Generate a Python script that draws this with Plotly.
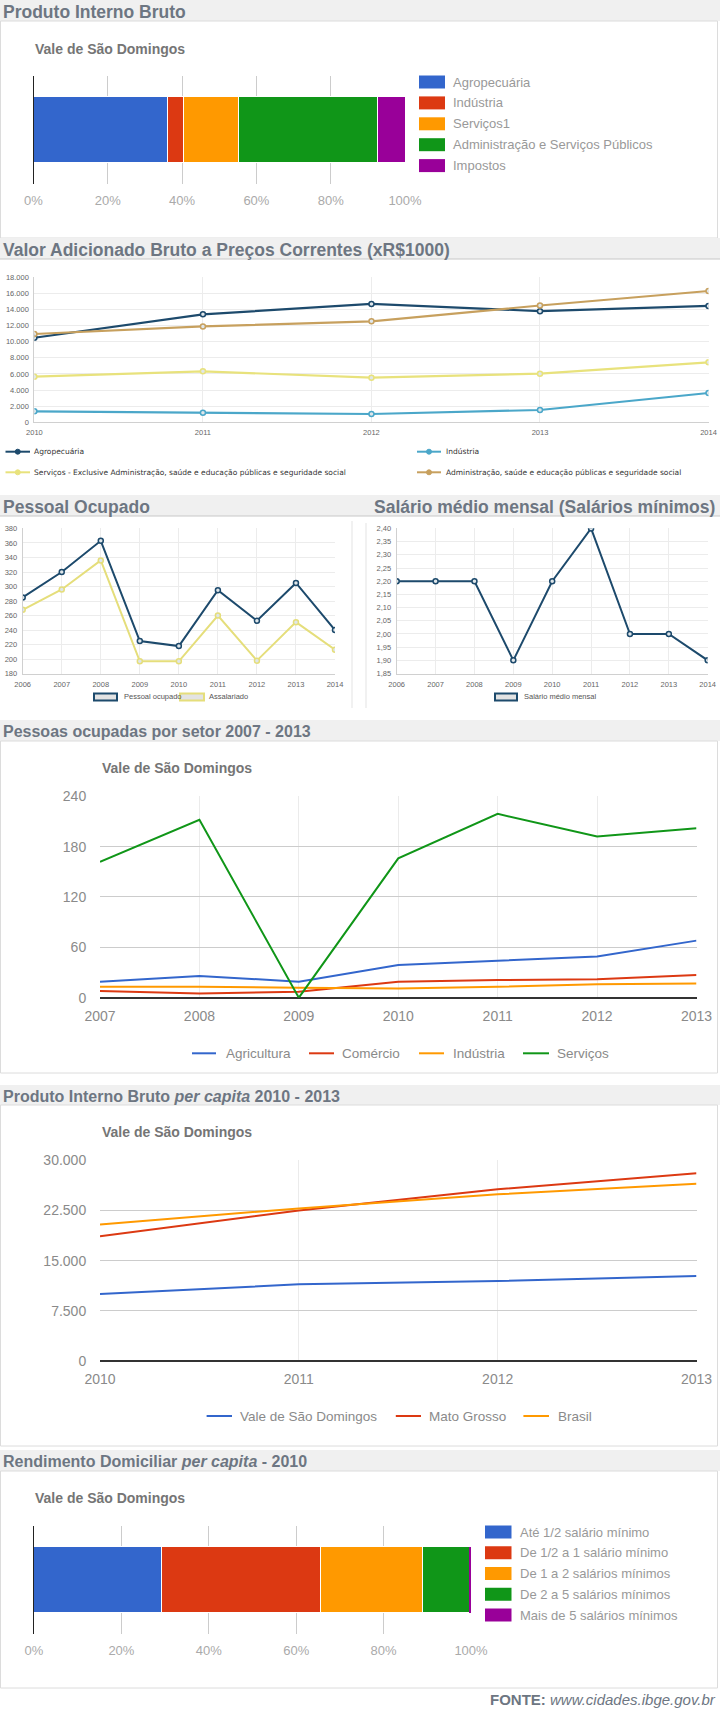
import plotly.graph_objects as go

W, H = 720, 1709

# ---------------- data ----------------
pib_setores = ["Agropecuária", "Indústria", "Serviços1", "Administração e Serviços Públicos", "Impostos"]
pib_shares = [36.1, 4.2, 14.9, 37.5, 7.3]
google_colors = ["#3366cc", "#dc3912", "#ff9900", "#109618", "#990099"]

vab_years = [2010, 2011, 2012, 2013, 2014]
vab_agro = [10500, 13400, 14700, 13800, 14450]
vab_ind = [1360, 1200, 1030, 1530, 3640]
vab_serv = [5660, 6330, 5540, 6040, 7440]
vab_adm = [10960, 11900, 12530, 14500, 16300]
vab_names = ["Agropecuária", "Indústria",
             "Serviços - Exclusive Administração, saúde e educação públicas e seguridade social",
             "Administração, saúde e educação públicas e seguridade social"]
vab_colors = ["#1d4a6c", "#4ba7c9", "#e8e27c", "#c7a05e"]
vab_yticks = [0, 2000, 4000, 6000, 8000, 10000, 12000, 14000, 16000, 18000]

po_years = [2006, 2007, 2008, 2009, 2010, 2011, 2012, 2013, 2014]
po_ocupado = [285, 320, 363, 225, 218, 295, 253, 305, 240]
po_assal = [268, 296, 336, 197, 197, 260, 198, 251, 213]
po_names = ["Pessoal ocupado", "Assalariado"]
po_colors = ["#1d4a6c", "#e5de7b"]

sal_years = po_years
sal_medio = [2.20, 2.20, 2.20, 1.90, 2.20, 2.40, 2.00, 2.00, 1.90]
sal_name = "Salário médio mensal"
sal_yticks = [1.85, 1.90, 1.95, 2.00, 2.05, 2.10, 2.15, 2.20, 2.25, 2.30, 2.35, 2.40]

setor_years = [2007, 2008, 2009, 2010, 2011, 2012, 2013]
setor_agri = [19, 26, 19, 39, 44, 49, 68]
setor_com = [8, 5, 7, 19, 21, 22, 27]
setor_ind = [13, 13, 12, 11, 13, 16, 17]
setor_serv = [162, 212, 0, 166, 219, 192, 202]
setor_names = ["Agricultura", "Comércio", "Indústria", "Serviços"]

pc_years = [2010, 2011, 2012, 2013]
pc_vale = [10000, 11450, 11940, 12700]
pc_mt = [18650, 22500, 25650, 28060]
pc_br = [20400, 22800, 24900, 26500]
pc_names = ["Vale de São Domingos", "Mato Grosso", "Brasil"]

rend_faixas = ["Até 1/2 salário mínimo", "De 1/2 a 1 salário mínimo", "De 1 a 2 salários mínimos",
               "De 2 a 5 salários mínimos", "Mais de 5 salários mínimos"]
rend_shares = [29.2, 36.4, 23.5, 10.6, 0.3]

municipio = "Vale de São Domingos"

# ---------------- helpers ----------------
FONT = "Liberation Sans, Arial, sans-serif"
TITLE_C = "#6d7682"


def X(p):
    return p / W


def Y(p):
    return 1 - p / H


def dx(a, b):
    return [X(a), X(b)]


def dy(top, bottom):
    return [Y(bottom), Y(top)]


fig = go.Figure()
shapes = []
annotations = []


def title_bar(text, top, bottom, size, line=True):
    shapes.append(dict(type="rect", xref="paper", yref="paper", x0=0, x1=1, y0=Y(bottom), y1=Y(top),
                       fillcolor="#f0f0f0", line=dict(width=0), layer="below"))
    if line:
        shapes.append(dict(type="line", xref="paper", yref="paper", x0=0, x1=1, y0=Y(bottom), y1=Y(bottom),
                           line=dict(color="#c8c8c8", width=1)))
    annotations.append(dict(text="<b>%s</b>" % text, xref="paper", yref="paper", x=X(1), y=Y((top + bottom) / 2 + 1),
                            xanchor="left", yanchor="middle", showarrow=False,
                            font=dict(family=FONT, size=size, color=TITLE_C)))


def box(top, bottom, left=0.5, right=717.5):
    shapes.append(dict(type="rect", xref="paper", yref="paper", x0=X(left), x1=X(right), y0=Y(bottom), y1=Y(top),
                       fillcolor="rgba(0,0,0,0)", line=dict(color="#dcdcdc", width=1), layer="below"))


def text(t, x, y, size, color, anchor="left", family=FONT):
    annotations.append(dict(text=t, xref="paper", yref="paper", x=X(x), y=Y(y), xanchor=anchor,
                            yanchor="middle", showarrow=False, font=dict(family=family, size=size, color=color)))


def swatch(x0, x1, y0, y1, color, border=None, bw=0):
    shapes.append(dict(type="rect", xref="paper", yref="paper", x0=X(x0), x1=X(x1), y0=Y(y1), y1=Y(y0),
                       fillcolor=color, line=dict(color=border or color, width=bw)))


def legline(x0, x1, y, color, w=2):
    shapes.append(dict(type="line", xref="paper", yref="paper", x0=X(x0), x1=X(x1), y0=Y(y), y1=Y(y),
                       line=dict(color=color, width=w)))


# ---------------- section 1: PIB stacked bar ----------------
title_bar("Produto Interno Bruto", 0, 21, 17.5, line=False)
box(21, 238)
text("<b>%s</b>" % municipio, 33, 49, 14, "#757575")
for name, val, col in zip(pib_setores, pib_shares, google_colors):
    fig.add_trace(go.Bar(x=[val / 100], y=[municipio], orientation="h", name=name, width=0.62,
                         marker=dict(color=col, line=dict(color="white", width=1)),
                         xaxis="x", yaxis="y", showlegend=False))
for i, (name, col) in enumerate(zip(pib_setores, google_colors)):
    yc = 82 + i * 20.9
    swatch(419, 445, yc - 6.5, yc + 6.5, col)
    text(name, 451, yc, 13, "#999999")

# ---------------- section 2: VAB lines ----------------
title_bar("Valor Adicionado Bruto a Preços Correntes (xR$1000)", 238, 259, 17.5)
for name, vals, col in zip(vab_names, [vab_agro, vab_ind, vab_serv, vab_adm], vab_colors):
    fig.add_trace(go.Scatter(x=vab_years, y=vals, mode="lines+markers", name=name,
                             line=dict(color=col, width=2.2),
                             marker=dict(symbol="circle", size=5, color="#dfe6ea", line=dict(color=col, width=1.5)),
                             xaxis="x2", yaxis="y2", showlegend=False))
leg2 = [(5.5, 30, 32, 451.7), (417, 441, 444, 451.7), (5.5, 30, 32, 472.3), (417, 441, 444, 472.3)]
for (x0, x1, xt, yc), name, col in zip(leg2, vab_names, vab_colors):
    legline(x0, x1, yc, col, 2)
    shapes.append(dict(type="circle", xref="paper", yref="paper", x0=X((x0 + x1) / 2 - 2.5),
                       x1=X((x0 + x1) / 2 + 2.5), y0=Y(yc + 2.5), y1=Y(yc - 2.5), fillcolor=col,
                       line=dict(color=col, width=1)))
    text(name, xt, yc, 7.5, "#333333", family="DejaVu Sans, Verdana, sans-serif")

# ---------------- section 3: Pessoal ocupado + Salario ----------------
title_bar("Pessoal Ocupado", 495, 516, 17.5)
annotations.append(dict(text="<b>Salário médio mensal (Salários mínimos)</b>", xref="paper", yref="paper",
                        x=X(372), y=Y(506.5), xanchor="left", yanchor="middle", showarrow=False,
                        font=dict(family=FONT, size=17.5, color=TITLE_C)))
shapes.append(dict(type="line", xref="paper", yref="paper", x0=X(352), x1=X(352), y0=Y(708), y1=Y(521),
                   line=dict(color="#e3e3e3", width=1)))
shapes.append(dict(type="line", xref="paper", yref="paper", x0=X(366), x1=X(366), y0=Y(708), y1=Y(523),
                   line=dict(color="#e3e3e3", width=1)))
for name, vals, col in zip(po_names, [po_ocupado, po_assal], po_colors):
    fig.add_trace(go.Scatter(x=po_years, y=vals, mode="lines+markers", name=name,
                             line=dict(color=col, width=2),
                             marker=dict(symbol="circle", size=5, color="#dfe6ea", line=dict(color=col, width=1.5)),
                             xaxis="x3", yaxis="y3", showlegend=False))
fig.add_trace(go.Scatter(x=sal_years, y=sal_medio, mode="lines+markers", name=sal_name,
                         line=dict(color=po_colors[0], width=2),
                         marker=dict(symbol="circle", size=5, color="#dfe6ea", line=dict(color=po_colors[0], width=1.5)),
                         xaxis="x4", yaxis="y4", showlegend=False))
for (x0, x1, xt), name, col in zip([(94, 117, 122), (180, 204, 207)], po_names, po_colors):
    swatch(x0, x1, 693.5, 700.5, "#e3e3e3", border=col, bw=2)
    text(name, xt, 697, 7.5, "#555555")
swatch(495, 517, 693.5, 700.5, "#e3e3e3", border=po_colors[0], bw=2)
text(sal_name, 522, 697, 7.5, "#555555")

# ---------------- section 4: Pessoas ocupadas por setor ----------------
title_bar("Pessoas ocupadas por setor 2007 - 2013", 720, 741, 16, line=False)
box(741, 1073)
text("<b>%s</b>" % municipio, 100, 768.3, 14, "#757575")
for name, vals, col in zip(setor_names, [setor_agri, setor_com, setor_ind, setor_serv], google_colors):
    fig.add_trace(go.Scatter(x=setor_years, y=vals, mode="lines", name=name, line=dict(color=col, width=2),
                             xaxis="x5", yaxis="y5", showlegend=False))
for (x0, x1, xt), name, col in zip([(192, 216, 223.6), (309, 334, 340), (419, 444, 451), (523, 549, 555)],
                                   setor_names, google_colors):
    legline(x0, x1, 1053.3, col, 2)
    text(name, xt, 1053.3, 13.5, "#8a8a8a")

# ---------------- section 5: PIB per capita ----------------
title_bar("Produto Interno Bruto <i>per capita</i> 2010 - 2013", 1085, 1105, 16, line=False)
box(1105, 1446)
text("<b>%s</b>" % municipio, 100, 1132.3, 14, "#757575")
for name, vals, col in zip(pc_names, [pc_vale, pc_mt, pc_br], google_colors):
    fig.add_trace(go.Scatter(x=pc_years, y=vals, mode="lines", name=name, line=dict(color=col, width=2),
                             xaxis="x6", yaxis="y6", showlegend=False))
for (x0, x1, xt), name, col in zip([(206.6, 232, 237.8), (395.8, 421, 427), (523.4, 549, 555.6)],
                                   pc_names, google_colors):
    legline(x0, x1, 1416, col, 2)
    text(name, xt, 1416, 13.5, "#8a8a8a")

# ---------------- section 6: Rendimento domiciliar ----------------
title_bar("Rendimento Domiciliar <i>per capita</i> - 2010", 1450, 1471, 16, line=False)
box(1471, 1688)
text("<b>%s</b>" % municipio, 33, 1498.3, 14, "#757575")
for name, val, col in zip(rend_faixas, rend_shares, google_colors):
    fig.add_trace(go.Bar(x=[val / 100], y=[municipio], orientation="h", name=name, width=0.62,
                         marker=dict(color=col, line=dict(color="white", width=1 if val > 1 else 0)),
                         xaxis="x7", yaxis="y7", showlegend=False))
for i, (name, col) in enumerate(zip(rend_faixas, google_colors)):
    yc = 1532 + i * 20.75
    swatch(485, 511.5, yc - 6.5, yc + 6.5, col)
    text(name, 518, yc, 13, "#999999")

annotations.append(dict(text="<b>FONTE:</b> <i>www.cidades.ibge.gov.br</i>", xref="paper", yref="paper",
                        x=X(718), y=Y(1699.3), xanchor="right", yanchor="middle", showarrow=False,
                        font=dict(family=FONT, size=15, color=TITLE_C)))

# ---------------- axes ----------------
tick_small = dict(family=FONT, size=7.5, color="#666666")


def bar_axes(xd, yd):
    xa = dict(domain=xd, range=[0, 1], tickvals=[0, 0.2, 0.4, 0.6, 0.8, 1.0], tickformat=".0%",
              showgrid=True, gridcolor="#cccccc", gridwidth=1, zeroline=False, showline=False,
              ticks="outside", ticklen=4, tickcolor="rgba(0,0,0,0)",
              tickfont=dict(family=FONT, size=13, color="#aaaaaa"), fixedrange=True)
    ya = dict(domain=yd, range=[-0.5, 0.5], showticklabels=False, showgrid=False, zeroline=False,
              showline=True, linecolor="#222222", linewidth=1, fixedrange=True)
    return xa, ya


x1a, y1a = bar_axes(dx(33.5, 405), dy(76, 184))
x7a, y7a = bar_axes(dx(34, 471), dy(1526, 1634))


def small_line_axes(xd, yd, xr, yr, tickvals, fmt):
    xa = dict(domain=xd, range=xr, dtick=1, tick0=xr[0], showgrid=True, gridcolor="#ececec",
              zeroline=False, showline=True, linecolor="#d0d0d0", linewidth=1,
              ticks="outside", ticklen=3, tickcolor="rgba(0,0,0,0)", tickfont=tick_small)
    ya = dict(domain=yd, range=yr, tickvals=tickvals, tickformat=fmt, showgrid=True, gridcolor="#ececec",
              zeroline=False, showline=True, linecolor="#d0d0d0", linewidth=1,
              ticks="outside", ticklen=3, tickcolor="rgba(0,0,0,0)", tickfont=tick_small)
    return xa, ya


x2a, y2a = small_line_axes(dx(34.4, 708.5), dy(277.3, 422.3), [2010, 2014], [0, 18000.5], vab_yticks, ",.0f")
x3a, y3a = small_line_axes(dx(22.7, 335), dy(528.3, 673.7), [2006, 2014], [180, 380.2],
                           list(range(180, 381, 20)), "d")
x4a, y4a = small_line_axes(dx(396.7, 707.7), dy(528.3, 673.7), [2006, 2014], [1.8495, 2.4005],
                           sal_yticks, ".2f")


def big_line_axes(xd, yd, xr, yr, dt, fmt):
    tf = dict(family=FONT, size=14, color="#8a8a8a")
    xa = dict(domain=xd, range=xr, dtick=1, tick0=xr[0], showgrid=True, gridcolor="#ebebeb",
              zeroline=False, showline=False, ticks="outside", ticklen=5, tickcolor="rgba(0,0,0,0)",
              tickfont=tf)
    ya = dict(domain=yd, range=yr, dtick=dt, tick0=0, tickformat=fmt, showgrid=True, gridcolor="#cccccc",
              zeroline=True, zerolinecolor="#333333", zerolinewidth=2, showline=False,
              ticks="outside", ticklen=10, tickcolor="rgba(0,0,0,0)", tickfont=tf)
    return xa, ya


x5a, y5a = big_line_axes(dx(100, 696.5), dy(796, 997.7), [2007, 2013], [0, 240.3], 60, "d")
x6a, y6a = big_line_axes(dx(100, 696.5), dy(1160, 1361), [2010, 2013], [0, 30030], 7500, ",.0f")

axes = {}
for i, (xa, ya) in enumerate([(x1a, y1a), (x2a, y2a), (x3a, y3a), (x4a, y4a), (x5a, y5a), (x6a, y6a), (x7a, y7a)], 1):
    sfx = "" if i == 1 else str(i)
    xa["anchor"] = "y" + sfx
    ya["anchor"] = "x" + sfx
    xa["automargin"] = False
    ya["automargin"] = False
    axes["xaxis" + sfx] = xa
    axes["yaxis" + sfx] = ya

fig.update_layout(
    width=W, height=H, autosize=False,
    margin=dict(l=0, r=0, t=0, b=0, pad=0, autoexpand=False),
    paper_bgcolor="white", plot_bgcolor="white",
    barmode="stack", bargap=0, separators=",.",
    font=dict(family=FONT, color="#666666"),
    shapes=shapes, annotations=annotations, showlegend=False,
    **axes
)

post = ("var s=document.createElement('style');"
        "s.innerHTML='html,body{margin:0!important;padding:0!important;overflow:hidden;}';"
        "document.head.appendChild(s);")
fig.write_html("out.html", config={"displayModeBar": False, "responsive": False}, post_script=post)
